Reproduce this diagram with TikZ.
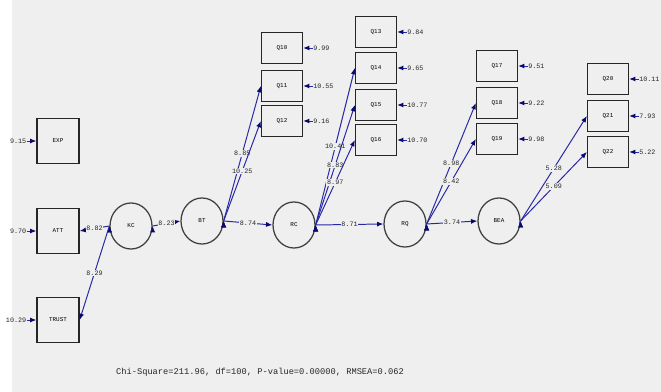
\documentclass[tikz,border=0pt]{standalone}
\usepackage{fontspec}
\setmonofont{Liberation Mono}
\usetikzlibrary{arrows.meta,positioning,shapes.geometric}
\definecolor{pathblue}{RGB}{40,40,165}
\definecolor{headblue}{RGB}{10,10,110}
\definecolor{panel}{RGB}{239,239,239}

\begin{document}
\begin{tikzpicture}[x=0.025cm,y=-0.025cm,
    obs/.style={shape=rectangle,draw=black!85,line width=0.9pt,inner sep=0pt,
      minimum width=1.025cm,minimum height=0.775cm,font=\ttfamily\fontsize{4.2}{5}\selectfont},
    tallobs/.style={obs,minimum width=1.05cm,minimum height=1.125cm},
    lat/.style={shape=ellipse,draw=black!75,line width=0.9pt,inner sep=0pt,
      minimum width=1.05cm,minimum height=1.15cm,font=\ttfamily\fontsize{4.2}{5}\selectfont},
    link/.style={draw=pathblue,line width=0.7pt,-{Latex[length=4.5pt,width=3.6pt,color=headblue]}},
    est/.style={font=\ttfamily\fontsize{4.8}{5}\selectfont,text=black!85,fill=panel,inner sep=0.6pt},
    err/.style={font=\ttfamily\fontsize{4.8}{5}\selectfont,text=black!85,inner sep=0pt}]

    \useasboundingbox (0,0) rectangle (661,392);
    \fill[white] (0,0) rectangle (661,392);
    \fill[panel] (12,0) rectangle (661,392);

    % observed, left
    \node[tallobs] (EXP)   at (58,141) {EXP};
    \node[tallobs] (ATT)   at (58,231) {ATT};
    \node[tallobs] (TRUST) at (58,320) {TRUST};

    % latent
    \node[lat] (KC)  at (131,226) {KC};
    \node[lat] (BT)  at (202,221) {BT};
    \node[lat] (RC)  at (294,225) {RC};
    \node[lat] (RQ)  at (405,224) {RQ};
    \node[lat] (BEA) at (499,221) {BEA};

    % observed, right
    \node[obs] (Q10) at (282,48)  {Q10};
    \node[obs] (Q11) at (282,86)  {Q11};
    \node[obs] (Q12) at (282,121) {Q12};
    \node[obs] (Q13) at (376,32)  {Q13};
    \node[obs] (Q14) at (376,68)  {Q14};
    \node[obs] (Q15) at (376,105) {Q15};
    \node[obs] (Q16) at (376,140) {Q16};
    \node[obs] (Q17) at (497,66)  {Q17};
    \node[obs] (Q18) at (497,103) {Q18};
    \node[obs] (Q19) at (497,139) {Q19};
    \node[obs] (Q20) at (608,79)  {Q20};
    \node[obs] (Q21) at (608,116) {Q21};
    \node[obs] (Q22) at (608,152) {Q22};

    % error terms
    \node[err,left=7pt of EXP]   (eEXP)   {9.15};
    \node[err,left=7pt of ATT]   (eATT)   {9.70};
    \node[err,left=7pt of TRUST] (eTRUST) {10.29};
    \node[err,right=7pt of Q10] (e10) {9.99};
    \node[err,right=7pt of Q11] (e11) {10.55};
    \node[err,right=7pt of Q12] (e12) {9.16};
    \node[err,right=7pt of Q13] (e13) {9.84};
    \node[err,right=7pt of Q14] (e14) {9.65};
    \node[err,right=7pt of Q15] (e15) {10.77};
    \node[err,right=7pt of Q16] (e16) {10.70};
    \node[err,right=7pt of Q17] (e17) {9.51};
    \node[err,right=7pt of Q18] (e18) {9.22};
    \node[err,right=7pt of Q19] (e19) {9.98};
    \node[err,right=7pt of Q20] (e20) {10.11};
    \node[err,right=7pt of Q21] (e21) {7.93};
    \node[err,right=7pt of Q22] (e22) {5.22};

    \path[link] (eEXP) edge (EXP);
    \path[link] (eATT) edge (ATT);
    \path[link] (eTRUST) edge (TRUST);
    \path[link] (e10) edge (Q10);
    \path[link] (e11) edge (Q11);
    \path[link] (e12) edge (Q12);
    \path[link] (e13) edge (Q13);
    \path[link] (e14) edge (Q14);
    \path[link] (e15) edge (Q15);
    \path[link] (e16) edge (Q16);
    \path[link] (e17) edge (Q17);
    \path[link] (e18) edge (Q18);
    \path[link] (e19) edge (Q19);
    \path[link] (e20) edge (Q20);
    \path[link] (e21) edge (Q21);
    \path[link] (e22) edge (Q22);

    % loadings and structural paths
    \path[link] (KC.west) edge node[est] {8.82} (ATT.east);
    \path[link] (KC.west) edge node[est] {8.29} (TRUST.east);
    \path[link] (KC.east) edge node[est] {8.23} (BT.west);
    \path[link] (BT.east) edge node[est] {8.85} (Q11.west);
    \path[link] (BT.east) edge node[est] {10.25} (Q12.west);
    \path[link] (BT.east) edge node[est] {8.74} (RC.west);
    \path[link] (RC.east) edge node[est] {10.41} (Q14.west);
    \path[link] (RC.east) edge node[est] {8.83} (Q15.west);
    \path[link] (RC.east) edge node[est] {8.97} (Q16.west);
    \path[link] (RC.east) edge node[est] {8.71} (RQ.west);
    \path[link] (RQ.east) edge node[est] {8.98} (Q18.west);
    \path[link] (RQ.east) edge node[est] {8.42} (Q19.west);
    \path[link] (RQ.east) edge node[est] {3.74} (BEA.west);
    \path[link] (BEA.east) edge node[est] {5.28} (Q21.west);
    \path[link] (BEA.east) edge node[est] {5.09} (Q22.west);

    \node[font=\ttfamily\fontsize{6.2}{7}\selectfont,text=black!85] (fit) at (260,372)
      {Chi-Square=211.96, df=100, P-value=0.00000, RMSEA=0.062};
\end{tikzpicture}
\end{document}
